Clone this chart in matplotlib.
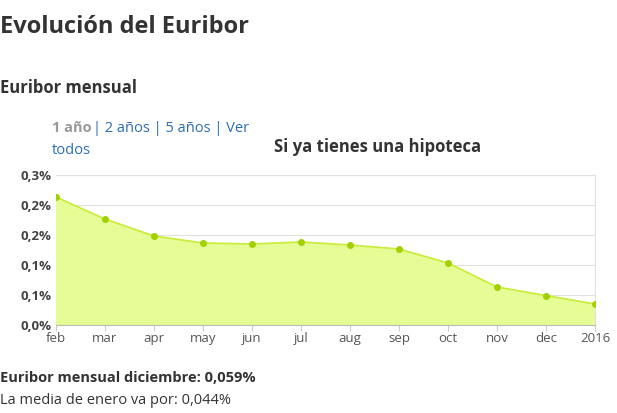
import matplotlib
matplotlib.use("Agg")
import matplotlib.pyplot as plt

months = ["feb", "mar", "apr", "may", "jun", "jul", "aug", "sep", "oct", "nov", "dec", "2016"]
euribor = [0.256, 0.212, 0.178, 0.164, 0.162, 0.166, 0.160, 0.152, 0.124, 0.076, 0.059, 0.042]
ytick_vals = [0.0, 0.06, 0.12, 0.18, 0.24, 0.30]
ytick_labels = ["0,0%", "0,1%", "0,1%", "0,2%", "0,2%", "0,3%"]

plt.rcParams["font.family"] = ["Open Sans", "DejaVu Sans"]
fig = plt.figure(figsize=(6.17, 4.13), dpi=100)
ax = fig.add_axes([56/617, 88/413, 539/617, 150/413])

x = list(range(len(months)))
ax.fill_between(x, euribor, 0, color="#e6fc94", zorder=1)
ax.plot(x, euribor, color="#c8ec3a", linewidth=1.2, zorder=2)
ax.scatter(x, euribor, color="#a2d000", s=16, zorder=3)

ax.set_xlim(0, len(months) - 1)
ax.set_ylim(0, 0.3)
ax.set_xticks(x)
ax.set_xticklabels(months, fontsize=9.5, color="#555555")
ax.set_yticks(ytick_vals)
ax.set_yticklabels(ytick_labels, fontsize=9.5, fontweight="bold", color="#444444")
ax.grid(axis="y", color="#e0e0e0", linewidth=0.8)
ax.tick_params(length=0, pad=3)
ax.tick_params(axis="x", length=4, color="#cccccc", pad=1)
for s in ["top", "right"]:
    ax.spines[s].set_color("#e0e0e0")
ax.spines["left"].set_visible(False)
ax.spines["bottom"].set_color("#bbbbbb")
ax.set_axisbelow(True)

fig.text(0, 1 - 27/413, "Evolución del Euribor", fontsize=17, fontweight="bold", color="#333333", va="center")
fig.text(0, 1 - 88/413, "Euribor mensual", fontsize=12, fontweight="bold", color="#333333", va="center")
fig.text(52/617, 1 - 128/413, "1 año", fontsize=10.5, fontweight="bold", color="#999999", va="center")
fig.text(93/617, 1 - 128/413, "| 2 años | 5 años | Ver", fontsize=10.5, color="#2a6db5", va="center")
fig.text(52/617, 1 - 150/413, "todos", fontsize=10.5, color="#2a6db5", va="center")
fig.text(378/617, 1 - 147/413, "Si ya tienes una hipoteca", fontsize=12, fontweight="bold", color="#333333", va="center", ha="center")
fig.text(0, 1 - 378/413, "Euribor mensual diciembre: 0,059%", fontsize=10.5, fontweight="bold", color="#333333", va="center")
fig.text(0, 1 - 400/413, "La media de enero va por: 0,044%", fontsize=10.5, color="#333333", va="center")

fig.savefig("out.png", dpi=100)
